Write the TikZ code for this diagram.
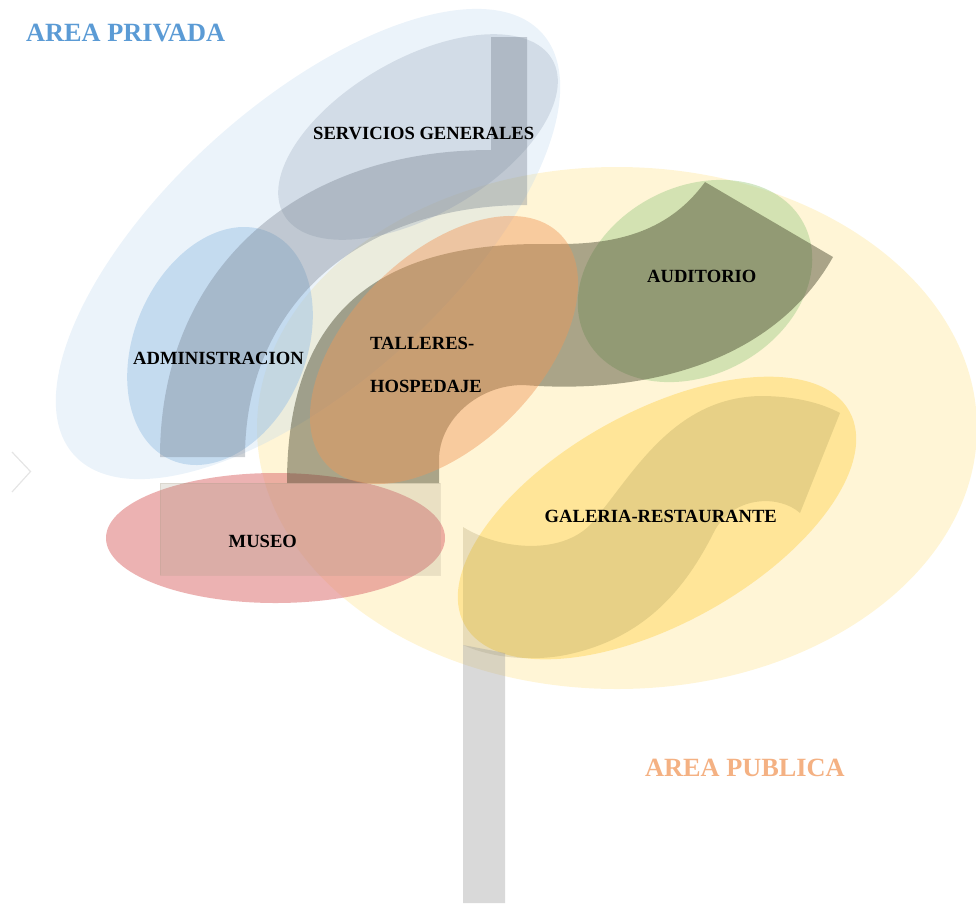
\documentclass[tikz,border=0pt]{standalone}
\usepackage{fontspec}
\setmainfont{Liberation Serif}
\usetikzlibrary{shapes.geometric}
\definecolor{cYellowBig}{HTML}{FFE699}
\definecolor{cBlueBig}{HTML}{BDD7EE}
\definecolor{cServ}{HTML}{ADB9CA}
\definecolor{cAdmin}{HTML}{9DC3E6}
\definecolor{cTall}{HTML}{F0985A}
\definecolor{cAud}{HTML}{A9D18E}
\definecolor{cGal}{HTML}{FFD966}
\definecolor{cMuseo}{HTML}{E07F7F}
\definecolor{cBandA}{HTML}{6F7A88}
\definecolor{cBandB}{HTML}{4A4A30}
\definecolor{cBandC}{HTML}{8A7A40}
\definecolor{cBar}{HTML}{A0A0A0}
\definecolor{cRect}{HTML}{A09880}
\definecolor{cPriv}{HTML}{5B9BD5}
\definecolor{cPub}{HTML}{F4B183}
\begin{document}
\begin{tikzpicture}[x=1pt,y=-1pt,
  zone/.style={ellipse, inner sep=0pt, outer sep=0pt, draw=none},
  lbl/.style={font=\fontsize{18.6}{22}\selectfont\bfseries, inner sep=0pt, anchor=base west, text=black},
  areatitle/.style={font=\fontsize{26.3}{30}\selectfont\bfseries, inner sep=0pt, anchor=base west},
  bandA/.style={fill=cBandA, fill opacity=0.35},
  bandB/.style={fill=cBandB, fill opacity=0.47},
  bandC/.style={fill=cBandC, fill opacity=0.2},
  barstyle/.style={fill=cBar, fill opacity=0.4},
  rectstyle/.style={fill=cRect, fill opacity=0.22, draw=cRect, draw opacity=0.2, line width=0.8pt}]
\useasboundingbox (0,0) rectangle (976,903);
\clip (0,0) rectangle (976,903);

% zones
\node[zone, fill=cYellowBig, fill opacity=0.4, minimum width=720pt, minimum height=522pt] (publica) at (617,428) {};
\node[zone, fill=cBlueBig, fill opacity=0.3, minimum width=630pt, minimum height=280pt, rotate=42] (privada) at (308,244) {};
\node[zone, fill=cServ, fill opacity=0.4, minimum width=310pt, minimum height=156pt, rotate=30] (servicios) at (418,137) {};
\node[zone, fill=cAdmin, fill opacity=0.5, minimum width=248pt, minimum height=172pt, rotate=67] (admin) at (220,346) {};
\node[zone, fill=cAud, fill opacity=0.5, minimum width=246pt, minimum height=188pt, rotate=28] (auditorio) at (695,281) {};
\node[zone, fill=cGal, fill opacity=0.55, minimum width=440pt, minimum height=212pt, rotate=29] (galeria) at (657,518) {};
\node[zone, fill=cMuseo, fill opacity=0.6, minimum width=339pt, minimum height=130pt] (museo) at (275.5,538) {};

% logo bands
\fill[bandA] (491,37) -- (527,37) -- (527,205) .. controls (358,205) and (245,306) .. (245,457)
  -- (160,457) .. controls (160,273) and (292,150) .. (491,150) -- cycle;
\fill[bandB] (287,483) -- (439,483) -- (439,460) .. controls (439,420) and (478,385) .. (523,385)
  .. controls (650,395) and (775,360) .. (833,257) -- (705,182)
  .. controls (670,230) and (620,244) .. (560,244) -- (540,244)
  .. controls (370,244) and (287,320) .. (287,483) -- cycle;
\fill[bandC] (463,527) .. controls (500,550) and (560,555) .. (590,525)
  .. controls (630,480) and (670,398) .. (760,396) .. controls (800,396) and (825,405) .. (840,413)
  -- (800,513) .. controls (780,495) and (735,495) .. (715,530)
  .. controls (690,580) and (650,640) .. (560,656) .. controls (520,662) and (485,655) .. (463,645) -- cycle;
\fill[barstyle] (463,645) -- (505,653) -- (505,903) -- (463,903) -- cycle;
\filldraw[rectstyle] (160,483) rectangle (440,575);

% talleres zone over the band
\node[zone, fill=cTall, fill opacity=0.45, minimum width=328pt, minimum height=190pt, rotate=45] (talleres) at (444,350) {};

% chevron
\draw[black!10, line width=1.2pt] (12,452) -- (30.5,471.5) -- (12,492);

% labels
\node[areatitle, text=cPriv] (tpriv) at (26,41.3) {AREA PRIVADA};
\node[areatitle, text=cPub] (tpub) at (645,776.7) {AREA PUBLICA};
\node[lbl] (tserv) at (313,139.3) {SERVICIOS GENERALES};
\node[lbl] (tadmin) at (133,364) {ADMINISTRACION};
\node[lbl] (ttall) at (370,349.3) {TALLERES-};
\node[lbl] (thosp) at (370,392.3) {HOSPEDAJE};
\node[lbl] (taud) at (647,282.3) {AUDITORIO};
\node[lbl] (tgal) at (544.5,522.3) {GALERIA-RESTAURANTE};
\node[lbl] (tmus) at (228.5,547.7) {MUSEO};
\end{tikzpicture}
\end{document}
